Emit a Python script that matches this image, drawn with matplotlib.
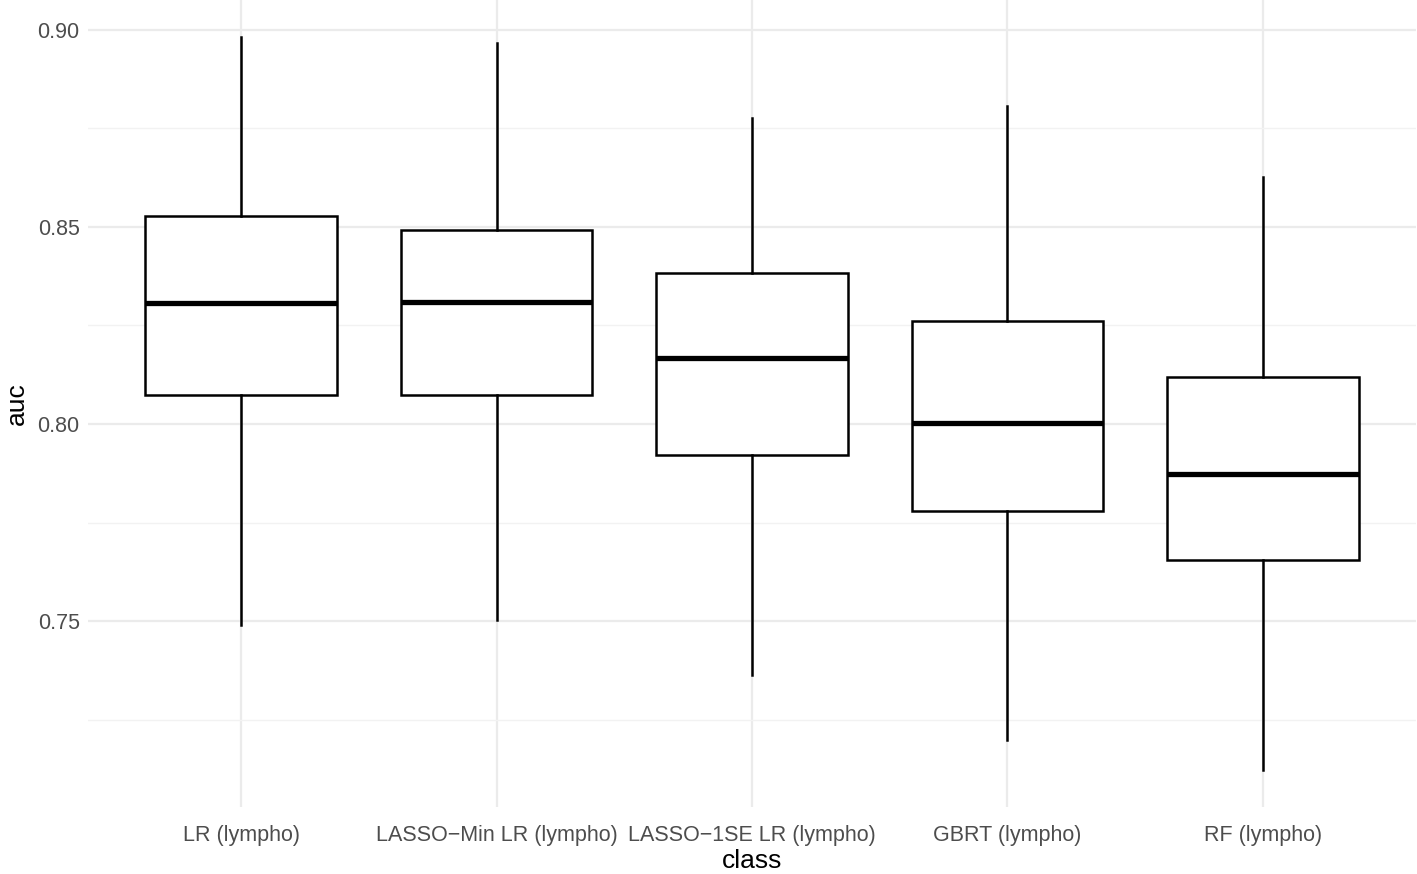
import numpy as np
import matplotlib
matplotlib.use("Agg")
import matplotlib.pyplot as plt
from matplotlib.ticker import MultipleLocator

# box statistics (auc)
classes = ["LR (lympho)", "LASSO\u2212Min LR (lympho)", "LASSO\u22121SE LR (lympho)",
           "GBRT (lympho)", "RF (lympho)"]
whisker_low = [0.7490, 0.7503, 0.7363, 0.7198, 0.7122]
q1 = [0.8074, 0.8074, 0.7921, 0.7779, 0.7655]
median = [0.8307, 0.8310, 0.8168, 0.8003, 0.7873]
q3 = [0.8528, 0.8492, 0.8383, 0.8261, 0.8119]
whisker_high = [0.8982, 0.8967, 0.8777, 0.8805, 0.8627]

plt.rcParams["font.family"] = ["Liberation Sans", "DejaVu Sans"]

fig = plt.figure(figsize=(14.17, 8.74), dpi=100)
ax = fig.add_axes([88 / 1417, 1 - 807 / 874, (1416 - 88) / 1417, 807 / 874])

stats = []
for i, name in enumerate(classes):
    stats.append({
        "label": name,
        "whislo": whisker_low[i],
        "q1": q1[i],
        "med": median[i],
        "q3": q3[i],
        "whishi": whisker_high[i],
        "fliers": [],
    })

ax.bxp(
    stats,
    positions=np.arange(1, len(classes) + 1),
    widths=0.75,
    showcaps=False,
    patch_artist=True,
    boxprops=dict(facecolor="white", edgecolor="black", linewidth=1.8),
    whiskerprops=dict(color="black", linewidth=1.8),
    medianprops=dict(color="black", linewidth=3.8, solid_capstyle="butt"),
    zorder=3,
)

ax.set_xlim(0.4, 5.6)
ax.set_ylim(0.7029, 0.9075)
ax.yaxis.set_minor_locator(MultipleLocator(0.025))
ax.set_yticks([0.75, 0.80, 0.85, 0.90])
ax.set_yticklabels(["0.75", "0.80", "0.85", "0.90"])

ax.grid(which="major", color="#EBEBEB", linewidth=1.6, zorder=0)
ax.grid(which="minor", axis="y", color="#F2F2F2", linewidth=1.0, zorder=0)
ax.set_axisbelow(True)
for s in ax.spines.values():
    s.set_visible(False)
ax.tick_params(which="both", length=0, labelsize=15.5, colors="#4D4D4D")
ax.tick_params(axis="x", pad=13)
ax.tick_params(axis="y", pad=6)

ax.set_xlabel("class", fontsize=19, color="black", labelpad=2)
ax.set_ylabel("auc", fontsize=19, color="black", labelpad=6)

fig.savefig("out.png", dpi=100)
